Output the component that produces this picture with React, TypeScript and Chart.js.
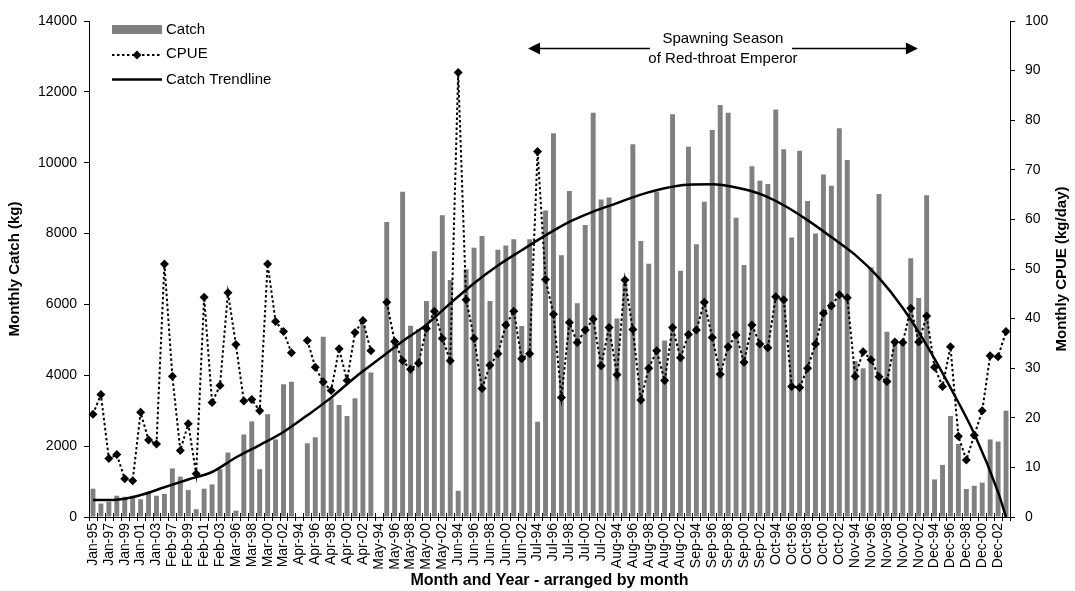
import { useEffect, useRef } from 'react';
import { Chart, registerables } from 'chart.js';

Chart.register(...registerables);

// Months arranged by calendar month, then by year
const categories = [
  'Jan-95', 'Jan-96', 'Jan-97', 'Jan-98', 'Jan-99', 'Jan-00', 'Jan-01', 'Jan-02', 'Jan-03',
  'Feb-96', 'Feb-97', 'Feb-98', 'Feb-99', 'Feb-00', 'Feb-01', 'Feb-02', 'Feb-03',
  'Mar-95', 'Mar-96', 'Mar-97', 'Mar-98', 'Mar-99', 'Mar-00', 'Mar-01', 'Mar-02', 'Mar-03',
  'Apr-94', 'Apr-95', 'Apr-96', 'Apr-97', 'Apr-98', 'Apr-99', 'Apr-00', 'Apr-01', 'Apr-02', 'Apr-03',
  'May-94', 'May-95', 'May-96', 'May-97', 'May-98', 'May-99', 'May-00', 'May-01', 'May-02', 'May-03',
  'Jun-94', 'Jun-95', 'Jun-96', 'Jun-97', 'Jun-98', 'Jun-99', 'Jun-00', 'Jun-01', 'Jun-02', 'Jun-03',
  'Jul-94', 'Jul-95', 'Jul-96', 'Jul-97', 'Jul-98', 'Jul-99', 'Jul-00', 'Jul-01', 'Jul-02', 'Jul-03',
  'Aug-94', 'Aug-95', 'Aug-96', 'Aug-97', 'Aug-98', 'Aug-99', 'Aug-00', 'Aug-01', 'Aug-02', 'Aug-03',
  'Sep-94', 'Sep-95', 'Sep-96', 'Sep-97', 'Sep-98', 'Sep-99', 'Sep-00', 'Sep-01', 'Sep-02', 'Sep-03',
  'Oct-94', 'Oct-95', 'Oct-96', 'Oct-97', 'Oct-98', 'Oct-99', 'Oct-00', 'Oct-01', 'Oct-02', 'Oct-03',
  'Nov-94', 'Nov-95', 'Nov-96', 'Nov-97', 'Nov-98', 'Nov-99', 'Nov-00', 'Nov-01', 'Nov-02', 'Nov-03',
  'Dec-94', 'Dec-95', 'Dec-96', 'Dec-97', 'Dec-98', 'Dec-99', 'Dec-00', 'Dec-01', 'Dec-02', 'Dec-03',
];

// Monthly catch (kg); null where no fishing was recorded
const catchKg = [
  800, 380, 430, 600, 570, 600, 500, 670, 600,
  650, 1370, 1140, 760, 220, 800, 920, 1350,
  1820, 180, 2330, 2700, 1350, 2900, 2190, 3750, 3820,
  null, 2080, 2250, 5090, 3350, 3160, 2850, 3350, 5420, 4080,
  null, 8330, 4950, 9180, 5400, 5300, 6100, 7500, 8520, 6690,
  740, 6990, 7600, 7930, 6100, 7540, 7660, 7840, 5390, 7840,
  2690, 8650, 10830, 7390, 9200, 6030, 8240, 11410, 8960, 9020,
  5600, 6600, 10520, 7790, 7150, 9180, 4980, 11370, 6950, 10450,
  7700, 8900, 10920, 11630, 11410, 8450, 7110, 9900, 9490, 9400,
  11500, 10380, 7890, 10340, 8920, 8000, 9670, 9350, 10970, 10080,
  4400, 4200, 7050, 9120, 5230, 5000, 4920, 7300, 6180, 9080,
  1060, 1470, 2850, 2060, 790, 880, 970, 2190, 2130, 3000,
];

// Catch per unit effort (kg/day)
const cpue = [
  20.7, 24.7, 11.8, 12.6, 7.7, 7.3, 21.1, 15.5, 14.7,
  51.0, 28.4, 13.4, 18.8, 8.7, 44.3, 23.1, 26.5,
  45.2, 34.8, 23.4, 23.7, 21.4, 51.0, 39.4, 37.4, 33.1,
  null, 35.6, 30.2, 27.2, 25.5, 33.9, 27.5, 37.2, 39.6, 33.5,
  null, 43.3, 35.4, 31.5, 29.8, 31.0, 38.0, 41.5, 36.0, 31.5,
  89.6, 43.8, 36.0, 25.9, 30.6, 32.9, 38.7, 41.5, 31.9, 32.9,
  73.7, 47.9, 40.9, 24.1, 39.2, 35.2, 37.7, 39.9, 30.5, 38.2,
  28.7, 47.8, 37.8, 23.6, 30.0, 33.5, 27.5, 38.2, 32.1, 36.8,
  37.7, 43.3, 36.2, 28.8, 34.3, 36.7, 31.2, 38.7, 34.9, 34.1,
  44.4, 43.8, 26.3, 26.1, 30.0, 34.9, 41.1, 42.6, 44.8, 44.2,
  28.4, 33.3, 31.7, 28.3, 27.3, 35.3, 35.2, 42.1, 35.3, 40.5,
  30.2, 26.3, 34.3, 16.3, 11.5, 16.5, 21.4, 32.5, 32.3, 37.4,
];

// Catch trendline, sampled along the fitted curve
const trendMonths = [
  'Jan-95', 'Jan-98', 'Jan-01', 'Feb-96', 'Feb-99', 'Feb-02', 'Mar-96', 'Mar-99', 'Mar-02',
  'Apr-95', 'Apr-98', 'Apr-01', 'May-94', 'May-97', 'May-00', 'May-03', 'Jun-96', 'Jun-99',
  'Jun-02', 'Jul-95', 'Jul-98', 'Jul-01', 'Aug-94', 'Aug-97', 'Aug-00', 'Aug-03', 'Sep-96',
  'Sep-99', 'Sep-02', 'Oct-95', 'Oct-98', 'Oct-01', 'Nov-94', 'Nov-97', 'Nov-00', 'Nov-03',
  'Dec-96', 'Dec-99', 'Dec-02', 'Dec-03',
];
const trendKg = [
  480, 490, 620, 840, 1060, 1270, 1680, 2030, 2400,
  2870, 3370, 3940, 4450, 4960, 5430, 6030, 6600, 7100,
  7530, 7950, 8330, 8620, 8860, 9100, 9280, 9380, 9390,
  9300, 9120, 8800, 8380, 7900, 7400, 6750, 5900, 4850,
  3650, 2350, 700, 0,
];

const catchTicks = [0, 2000, 4000, 6000, 8000, 10000, 12000, 14000];
const cpueTicks = [0, 10, 20, 30, 40, 50, 60, 70, 80, 90, 100];

const FONT = '"Liberation Sans", Arial, Helvetica, sans-serif';
const BAR_GREY = '#808080';

function diamond(ctx: CanvasRenderingContext2D, x: number, y: number, r: number) {
  ctx.beginPath();
  ctx.moveTo(x, y - r);
  ctx.lineTo(x + r, y);
  ctx.lineTo(x, y + r);
  ctx.lineTo(x - r, y);
  ctx.closePath();
  ctx.fill();
}

const decorations = {
  id: 'decorations',
  afterDraw(chart: any) {
    const { ctx, chartArea: a, scales } = chart;
    const xs = scales.x;
    ctx.save();

    // tick marks crossing the category axis at every category boundary
    const n = categories.length;
    const step = (a.right - a.left) / n;
    ctx.strokeStyle = '#000';
    ctx.lineWidth = 1;
    ctx.setLineDash([]);
    ctx.beginPath();
    for (let k = 0; k <= n; k++) {
      const px = Math.round(a.left + k * step) + 0.5;
      ctx.moveTo(px, a.bottom - 4);
      ctx.lineTo(px, a.bottom + 4);
    }
    ctx.stroke();

    // axis titles
    ctx.fillStyle = '#000';
    ctx.font = `bold 15px ${FONT}`;
    ctx.textAlign = 'center';
    ctx.textBaseline = 'middle';
    const midY = (a.top + a.bottom) / 2;
    ctx.save();
    ctx.translate(15, midY);
    ctx.rotate(-Math.PI / 2);
    ctx.fillText('Monthly Catch (kg)', 0, 0);
    ctx.restore();
    ctx.save();
    ctx.translate(1062, midY);
    ctx.rotate(-Math.PI / 2);
    ctx.fillText('Monthly CPUE (kg/day)', 0, 0);
    ctx.restore();
    ctx.font = `bold 16px ${FONT}`;
    ctx.fillText('Month and Year - arranged by month', (a.left + a.right) / 2, 581);

    // legend
    const lx0 = a.left + 23;
    const lx1 = a.left + 73;
    ctx.font = `15px ${FONT}`;
    ctx.textAlign = 'left';
    ctx.fillStyle = BAR_GREY;
    ctx.fillRect(lx0, 25, lx1 - lx0, 9);
    ctx.fillStyle = '#000';
    ctx.fillText('Catch', lx1 + 4, 30);

    ctx.lineWidth = 2;
    ctx.setLineDash([2.5, 2.5]);
    ctx.beginPath();
    ctx.moveTo(lx0, 55);
    ctx.lineTo(lx1, 55);
    ctx.stroke();
    ctx.setLineDash([]);
    diamond(ctx, (lx0 + lx1) / 2, 55, 4.5);
    ctx.fillText('CPUE', lx1 + 4, 54);

    ctx.lineWidth = 2.5;
    ctx.beginPath();
    ctx.moveTo(lx0, 79.5);
    ctx.lineTo(lx1, 79.5);
    ctx.stroke();
    ctx.fillText('Catch Trendline', lx1 + 4, 80);

    // spawning season annotation
    const ax0 = xs.getPixelForValue(54.8);
    const ax1 = xs.getPixelForValue(103.9);
    const cx = (ax0 + ax1) / 2;
    const ay = 48.5;
    ctx.textAlign = 'center';
    ctx.font = `15px ${FONT}`;
    ctx.fillText('Spawning Season', cx, 39);
    ctx.fillText('of Red-throat Emperor', cx, 59);
    ctx.lineWidth = 1.3;
    ctx.beginPath();
    ctx.moveTo(ax0 + 10, ay);
    ctx.lineTo(cx - 73, ay);
    ctx.moveTo(cx + 69, ay);
    ctx.lineTo(ax1 - 10, ay);
    ctx.stroke();
    ctx.beginPath();
    ctx.moveTo(ax0, ay);
    ctx.lineTo(ax0 + 12, ay - 6);
    ctx.lineTo(ax0 + 12, ay + 6);
    ctx.closePath();
    ctx.fill();
    ctx.beginPath();
    ctx.moveTo(ax1, ay);
    ctx.lineTo(ax1 - 12, ay - 6);
    ctx.lineTo(ax1 - 12, ay + 6);
    ctx.closePath();
    ctx.fill();

    ctx.restore();
  },
};

export default function App() {
  const canvasRef = useRef<HTMLCanvasElement | null>(null);

  useEffect(() => {
    const canvas = canvasRef.current;
    if (!canvas) return;
    const tickFont = { family: FONT, size: 14 };
    const plain = (v: any) => String(v);

    const chart = new Chart(canvas, {
      type: 'bar',
      data: {
        labels: categories,
        datasets: [
          {
            type: 'bar',
            label: 'Catch',
            data: catchKg,
            backgroundColor: BAR_GREY,
            borderWidth: 0,
            categoryPercentage: 1,
            barPercentage: 0.62,
            yAxisID: 'y',
            order: 3,
          },
          {
            type: 'line',
            label: 'Catch Trendline',
            data: trendMonths.map((m, k) => ({ x: m, y: trendKg[k] })),
            borderColor: '#000',
            borderWidth: 2.5,
            pointRadius: 0,
            cubicInterpolationMode: 'monotone',
            fill: false,
            yAxisID: 'y',
            order: 2,
          },
          {
            type: 'line',
            label: 'CPUE',
            data: cpue,
            borderColor: '#000',
            borderWidth: 2,
            borderDash: [2.5, 2.5],
            pointStyle: 'rectRot',
            pointRadius: 4.5,
            pointBackgroundColor: '#000',
            pointBorderColor: '#000',
            pointBorderWidth: 0,
            spanGaps: false,
            tension: 0,
            fill: false,
            yAxisID: 'y1',
            order: 1,
          },
        ],
      },
      options: {
        responsive: true,
        maintainAspectRatio: false,
        animation: false,
        events: [],
        layout: { padding: { top: 21, left: 0, right: 0, bottom: 0 } },
        plugins: {
          legend: { display: false },
          tooltip: { enabled: false },
          title: { display: false },
        },
        scales: {
          x: {
            type: 'category',
            offset: true,
            grid: { display: false, drawTicks: false, offset: true },
            border: { display: true, color: '#000', width: 1 },
            ticks: {
              autoSkip: false,
              minRotation: 90,
              maxRotation: 90,
              padding: 6,
              color: '#000',
              font: tickFont,
              callback: (_v: any, i: number) => (i % 2 === 0 ? categories[i] : ''),
            },
            afterFit: (s: any) => {
              s.height = 74;
            },
          },
          y: {
            position: 'left',
            min: 0,
            max: 14000,
            afterBuildTicks: (s: any) => {
              s.ticks = catchTicks.map((v) => ({ value: v }));
            },
            grid: { drawOnChartArea: false, drawTicks: true, tickLength: 5, color: '#000' },
            border: { display: true, color: '#000', width: 1 },
            ticks: { color: '#000', font: tickFont, padding: 7, callback: plain },
            afterFit: (s: any) => {
              s.width = 89;
            },
          },
          y1: {
            position: 'right',
            min: 0,
            max: 100,
            afterBuildTicks: (s: any) => {
              s.ticks = cpueTicks.map((v) => ({ value: v }));
            },
            grid: { drawOnChartArea: false, drawTicks: true, tickLength: 5, color: '#000' },
            border: { display: true, color: '#000', width: 1 },
            ticks: { color: '#000', font: tickFont, padding: 10, callback: plain },
            afterFit: (s: any) => {
              s.width = 65;
            },
          },
        },
      },
      plugins: [decorations],
    } as any);

    return () => chart.destroy();
  }, []);

  return (
    <div
      style={{
        position: 'fixed',
        left: 0,
        top: 0,
        width: 1075,
        height: 591,
        background: '#fff',
      }}
    >
      <canvas ref={canvasRef} />
    </div>
  );
}
